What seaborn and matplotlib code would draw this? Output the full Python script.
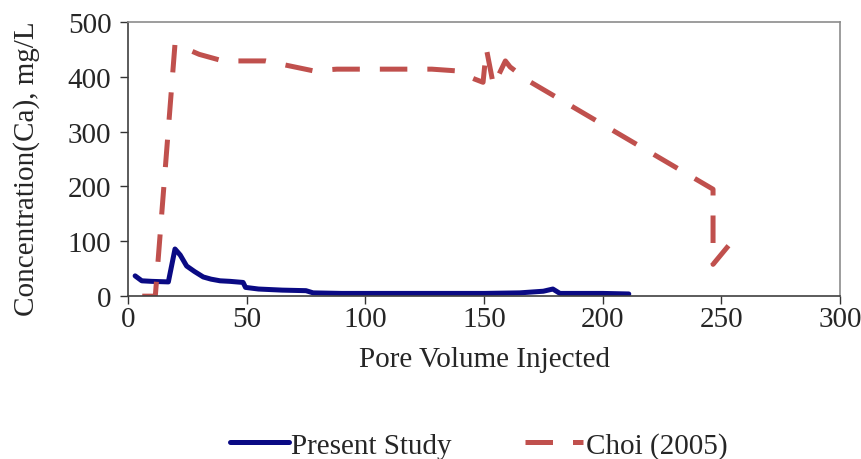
import pandas as pd
import numpy as np
import seaborn as sns
import matplotlib.pyplot as plt

# values
present_x = [3, 5.8, 10, 17, 19.8, 22, 24.7, 28, 31.7, 35, 38.8, 43, 48.5, 49.5, 55, 65, 75, 78,
             90, 110, 130, 150, 165, 175, 179, 182, 190, 200, 211]
present_y = [37, 28, 27, 26, 86, 75, 55, 45, 35, 31, 28, 27, 25, 16, 13, 11, 10, 6,
             5, 5, 5, 5, 6, 9, 13, 5, 5, 5, 4]

choi_x = [6, 11.5, 19.8, 30, 40, 50, 58, 68, 78, 88, 107, 128, 138, 146, 149.6, 151, 154, 159, 161,
          168.6, 246.5, 246.5, 253]
choi_y = [0, 0, 460, 441, 429, 429, 429, 420, 411, 414, 414, 414, 411, 396, 390, 451, 384, 429, 418,
          393, 195, 58, 92]

df = pd.concat([
    pd.DataFrame({'x': present_x, 'y': present_y, 'series': 'Present Study'}),
    pd.DataFrame({'x': choi_x, 'y': choi_y, 'series': 'Choi (2005)'}),
], ignore_index=True)

sns.set_style('white')
plt.rcParams['font.family'] = ['Liberation Serif', 'DejaVu Serif']

fig = plt.figure(figsize=(8.62, 4.6), dpi=100)
ax = fig.add_axes([0.1485, 0.354, 0.826, 0.596])

sns.lineplot(data=df, x='x', y='y', hue='series', style='series',
             palette={'Present Study': '#0a0a84', 'Choi (2005)': '#c0504d'},
             dashes={'Present Study': '', 'Choi (2005)': (5.5, 4)},
             sort=False, estimator=None, linewidth=3.6, ax=ax)

ax.set_xlim(0, 300)
ax.set_ylim(0, 500)
ax.set_xticks(range(0, 301, 50))
ax.set_yticks(range(0, 501, 100))
ax.tick_params(axis='both', labelsize=21, length=6, width=1, color='#333333',
               direction='out', bottom=True, left=True)
ax.tick_params(axis='x', pad=1)
ax.tick_params(axis='y', pad=6)
ax.set_xlabel('Pore Volume Injected', fontsize=21, labelpad=10)
ax.set_ylabel('Concentration(Ca), mg/L', fontsize=21)
ax.yaxis.set_label_coords(-0.124, 0.47)

for s in ['top', 'right']:
    ax.spines[s].set_color('#8c8c8c')
for s in ['left', 'bottom']:
    ax.spines[s].set_color('#404040')
for s in ax.spines.values():
    s.set_linewidth(1.2)

ax.legend(loc='upper center', bbox_to_anchor=(0.493, -0.40), ncol=2, frameon=False,
          fontsize=21, handlelength=2.0, handletextpad=0.1, columnspacing=2.5)

fig.savefig('out.png', dpi=100)
